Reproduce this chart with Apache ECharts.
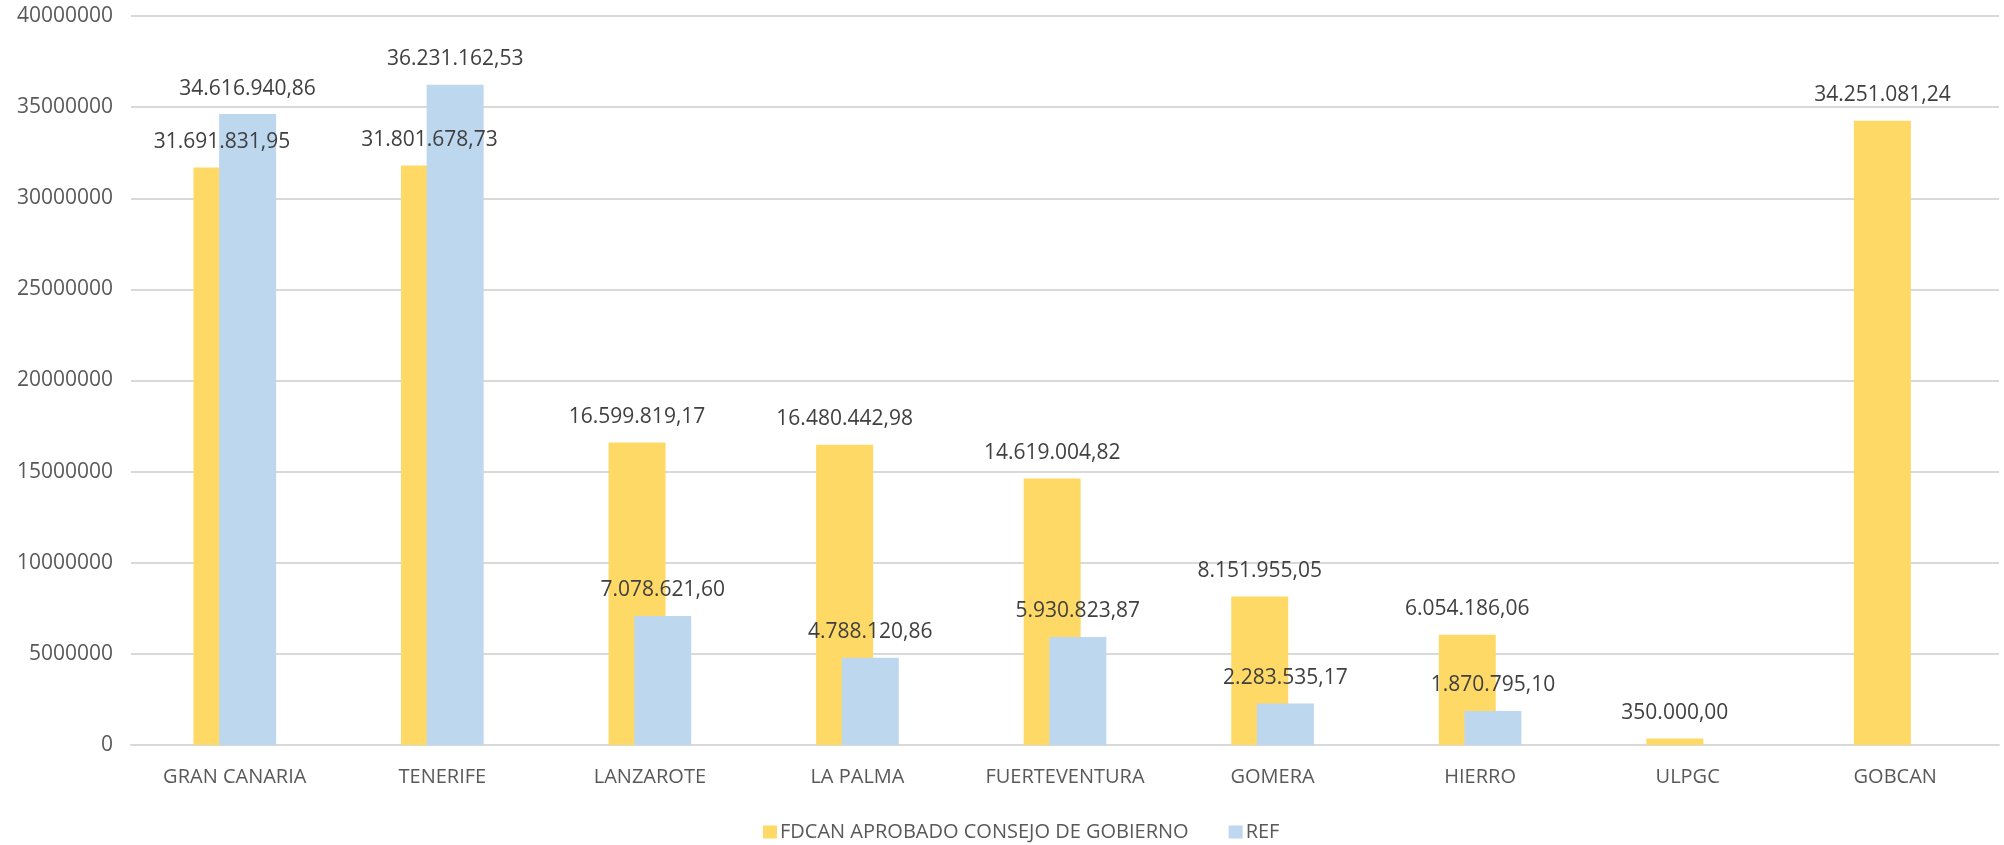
<!DOCTYPE html>
<html>
<head>
<meta charset="utf-8">
<script src="https://cdn.jsdelivr.net/npm/echarts@6/dist/echarts.min.js"></script>
<style>
  html, body { margin: 0; padding: 0; background: #fff; }
</style>
</head>
<body>
<div id="chart" style="width: 2004px;height:845px;"></div>
<script>
// datos del gráfico
const categories = ['GRAN CANARIA', 'TENERIFE', 'LANZAROTE', 'LA PALMA', 'FUERTEVENTURA', 'GOMERA', 'HIERRO', 'ULPGC', 'GOBCAN']
const fdcanValues = [31691831.95, 31801678.73, 16599819.17, 16480442.98, 14619004.82, 8151955.05, 6054186.06, 350000.00, 34251081.24]
const refValues = [34616940.86, 36231162.53, 7078621.60, 4788120.86, 5930823.87, 2283535.17, 1870795.10, null, null]
const yTicks = [0, 5000000, 10000000, 15000000, 20000000, 25000000, 30000000, 35000000, 40000000]

const font = '"Open Sans", "Noto Sans", sans-serif'

// formato español: 34.616.940,86
function formatEs(v) {
  const parts = Number(v).toFixed(2).split('.')
  const ent = parts[0].replace(/\B(?=(\d{3})+(?!\d))/g, '.')
  return ent + ',' + parts[1]
}

const chart = echarts.init(document.getElementById('chart'))

const labelStyle = {
  show: true,
  position: 'top',
  distance: 15,
  color: '#404040',
  fontSize: 21,
  fontFamily: font,
  formatter: p => formatEs(p.value)
}

chart.setOption({
  animation: false,
  grid: {
    left: 131,
    right: 5,
    top: 16,
    bottom: 100
  },
  legend: {
    left: 763,
    top: 822,
    padding: 0,
    itemWidth: 14,
    itemHeight: 13,
    itemGap: 40,
    icon: 'rect',
    textStyle: { color: '#595959', fontSize: 20, fontFamily: font, padding: [0, 0, 0, -2] },
    data: ['FDCAN APROBADO CONSEJO DE GOBIERNO', 'REF']
  },
  xAxis: {
    type: 'category',
    data: categories,
    axisTick: { show: false },
    axisLine: { lineStyle: { color: '#D9D9D9', width: 2 } },
    axisLabel: { color: '#595959', fontSize: 20, fontFamily: font, margin: 22, interval: 0 }
  },
  yAxis: {
    type: 'value',
    min: 0,
    max: yTicks[yTicks.length - 1],
    interval: yTicks[1] - yTicks[0],
    axisLine: { show: false },
    axisTick: { show: false },
    splitLine: { lineStyle: { color: '#D9D9D9', width: 2 } },
    axisLabel: { color: '#595959', fontSize: 21, fontFamily: font, margin: 18, formatter: v => String(v) }
  },
  series: [
    {
      name: 'FDCAN APROBADO CONSEJO DE GOBIERNO',
      type: 'bar',
      data: fdcanValues,
      barWidth: 57,
      barGap: '-55%',
      itemStyle: { color: '#FFD966' },
      label: labelStyle
    },
    {
      name: 'REF',
      type: 'bar',
      data: refValues,
      barWidth: 57,
      itemStyle: { color: '#BDD7EE' },
      label: labelStyle
    }
  ]
})
</script>
</body>
</html>
